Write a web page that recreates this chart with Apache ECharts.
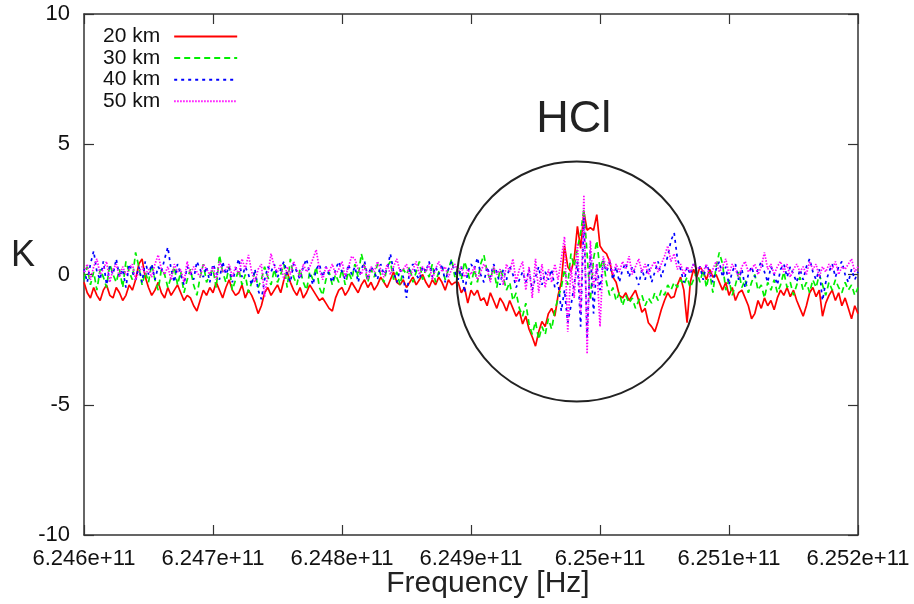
<!DOCTYPE html>
<html>
<head>
<meta charset="utf-8">
<script src="https://cdn.jsdelivr.net/npm/echarts@6/dist/echarts.min.js"></script>
<style>
html,body{margin:0;padding:0;background:#fff;}
#chart{width:914px;height:604px;}
</style>
</head>
<body>
<div id="chart"></div>
<script>
// Frequency channel grid (Hz)
const freqStartHz = 6.246e11;
const channelStepHz = 2.5e6;

// Axis ticks
const xTicksHz = [6.246e11, 6.247e11, 6.248e11, 6.249e11, 6.25e11, 6.251e11, 6.252e11];
const yTicksK = [-10, -5, 0, 5, 10];

const seriesNames = ['20 km', '30 km', '40 km', '50 km'];

// Brightness temperature [K] per channel
const k20km = [
 -0.3,-0.7,-0.9,-0.5,-0.8,-1.0,-0.6,-0.4,-0.8,-0.9,-0.5,-0.7,-1.0,-0.8,-0.4,-0.6,-0.2,0.4,0.6,-0.1,
 -0.5,-0.8,-0.6,-0.3,-0.7,-0.9,-0.5,-0.8,-0.6,-0.4,-0.7,-1.0,-0.8,-0.9,-1.2,-1.4,-1.0,-0.6,-0.8,-0.5,
 -0.7,-0.3,-0.6,-0.9,-0.5,-0.2,-0.6,-0.8,-0.7,-0.4,-0.9,-0.6,-0.8,-1.1,-1.5,-1.2,-0.7,-0.5,-0.8,-0.6,
 -0.4,-0.7,-0.2,0.1,-0.3,-0.6,-0.8,-0.5,-0.9,-0.7,-0.4,-0.6,-0.8,-1.0,-0.9,-1.1,-1.3,-1.4,-0.9,-0.6,
 -0.5,-0.8,-0.6,-0.3,-0.5,-0.7,-0.4,-0.2,-0.5,-0.3,-0.6,-0.4,-0.1,-0.3,-0.5,-0.2,0.1,-0.3,-0.4,-0.2,
 -0.5,-0.3,-0.1,-0.4,-0.2,0.0,-0.3,-0.5,-0.2,-0.4,-0.1,-0.3,-0.6,-0.2,-0.4,-0.3,
 -0.3,-0.7,-0.5,-1.1,-0.6,
 -0.8,-0.6,-1.0,-0.9,-1.2,-0.7,-1.0,-1.3,-0.9,-1.1,-1.4,-1.0,-1.3,-1.6,-1.4,
 -1.9,-1.6,-2.1,-2.4,-2.75,
 -2.2,-1.8,-2.0,-1.5,-1.3,-1.6,-0.8,
 -0.3,1.1,0.3,0.1,0.6,1.85,1.0,2.4,1.7,1.8,1.7,2.3,1.1,0.9,0.8,0.5,-0.1,-0.3,-0.8,-0.9,
 -0.7,-1.0,-0.8,-0.6,-1.0,-1.45,-1.3,-1.85,-2.0,-2.2,-1.8,-1.35,-1.0,-0.7,-0.9,-0.85,-0.4,-0.1,-0.6,-1.85,
 -0.3,0.2,-0.1,
 0.3,0.1,-0.2,0.2,-0.1,0.0,-0.3,-0.6,-0.3,-0.8,-0.5,-1.0,-0.7,-0.6,-0.9,-1.2,-1.7,-1.5,-1.0,-1.3,
 -0.9,-1.2,-1.0,-1.35,-0.9,-0.6,-0.8,-0.5,-0.85,-0.6,-1.0,-1.3,-1.6,-1.2,-0.7,-0.5,-0.85,-0.6,-1.6,-1.1,
 -0.8,-0.6,-1.0,-0.7,-1.2,-0.9,-1.3,-1.7,-1.2,-1.5
];
const k30km = [
 -0.2,0.3,-0.4,0.1,-0.6,0.2,-0.1,-0.5,0.4,0.0,-0.3,0.2,-0.5,0.5,0.1,-0.2,0.85,0.3,-0.4,0.1,
 -0.3,0.4,-0.2,-0.6,0.2,0.0,-0.5,-0.1,0.3,-0.4,0.1,-0.7,-0.2,0.2,-0.4,-0.8,-0.1,0.4,-0.3,0.0,
 0.2,-0.5,0.75,0.1,-0.3,0.3,-0.6,-0.2,0.2,-0.4,0.0,-0.7,-0.3,0.1,-0.5,-0.2,0.3,-0.1,-0.4,0.2,
 -0.3,0.0,0.4,-0.5,0.6,-0.1,-0.4,0.2,-0.3,-0.6,0.1,-0.2,0.3,-0.5,-0.8,-0.2,0.1,-0.4,0.0,-0.3,
 0.2,-0.4,0.1,-0.2,0.4,-0.1,0.8,0.3,-0.3,0.2,-0.1,0.4,0.0,-0.3,0.3,0.5,-0.2,0.1,-0.4,0.2,
 0.0,0.3,-0.3,0.1,0.5,-0.2,0.2,-0.1,0.4,-0.3,0.1,0.3,-0.2,0.2,0.6,-0.1,
 0.3,-0.2,0.5,0.1,-0.4,
 0.2,-0.3,0.4,0.75,0.1,-0.2,0.3,-0.5,0.2,-0.1,-0.6,-0.3,-1.0,-0.7,-1.3,
 -1.6,-1.1,-1.9,-2.3,-1.8,
 -2.5,-2.0,-2.3,-1.7,-2.1,-1.4,-0.9,
 -0.5,0.2,-0.4,0.8,0.3,1.0,1.6,2.5,0.8,-1.0,0.6,1.3,0.2,0.6,-0.3,-0.8,-0.5,-1.0,-0.7,-1.2,
 -0.8,-1.1,-0.9,-1.3,-1.0,-0.8,-1.2,-0.9,-1.1,-0.7,-1.0,-0.6,-0.8,-0.4,-0.6,-0.3,-0.5,-0.2,-0.4,-0.1,
 -0.5,-0.2,0.1,
 -0.3,0.2,-0.5,0.1,-0.7,0.3,0.85,0.4,-0.6,-0.2,-0.8,-0.4,0.1,-0.5,-0.2,-0.7,-0.3,0.0,-0.6,-0.4,
 -0.9,-0.3,-0.6,-0.2,-0.7,-0.4,0.1,-0.5,-0.3,-0.8,-0.4,-0.1,-0.6,-0.3,-0.7,-0.2,-0.5,0.0,-0.4,-0.8,
 -0.3,-0.6,-0.2,-0.5,-0.7,-0.3,-0.6,-0.4,-0.8,-0.5
];
const k40km = [
 0.2,-0.3,0.4,0.9,0.1,-0.2,0.5,-0.4,0.3,0.0,0.6,-0.1,0.2,-0.5,0.4,0.1,-0.2,0.3,-0.3,0.5,
 0.0,0.4,-0.2,0.3,0.1,0.6,1.05,0.2,-0.3,0.4,0.0,-0.4,0.3,0.1,-0.2,0.5,0.2,-0.1,0.3,-0.3,
 0.4,0.1,-0.2,0.5,0.0,0.3,-0.3,0.2,0.6,-0.1,0.3,0.0,-0.4,0.2,-0.6,-0.95,-0.2,0.3,0.1,0.4,
 -0.1,0.2,0.5,0.0,-0.3,0.4,0.1,-0.2,0.3,0.6,0.0,-0.4,0.2,0.4,-0.1,0.3,0.0,-0.3,0.2,0.5,
 0.1,-0.2,0.4,0.0,0.3,-0.3,0.2,0.5,-0.1,0.3,0.1,-0.2,0.4,0.0,0.2,0.8,0.1,-0.3,0.2,-0.1,
 -0.9,0.2,0.4,0.0,-0.2,0.3,0.1,0.5,-0.1,0.3,0.0,0.4,-0.3,0.2,0.5,0.1,
 -0.2,0.3,-0.7,0.1,0.4,
 0.2,0.65,0.0,-0.3,0.3,-0.1,0.4,0.1,-0.4,0.2,-0.2,0.3,0.0,-0.5,-0.2,
 0.1,-0.3,0.2,-0.6,-0.1,
 0.3,-0.4,0.1,-0.2,0.2,-0.5,-0.3,
 -1.4,-0.6,-1.85,-1.2,-0.4,0.5,-2.0,2.2,-2.4,0.9,-1.5,0.4,-0.6,0.5,0.1,0.45,-0.2,0.3,-0.3,0.2,
 0.45,-0.1,0.3,0.0,-0.4,0.2,-0.2,0.4,-0.3,0.1,0.5,-0.1,0.3,0.7,1.3,1.6,0.6,0.2,-0.3,0.3,
 0.0,0.4,0.1,
 0.3,-0.2,0.4,0.1,-0.3,0.2,0.5,-0.1,0.3,-0.4,0.1,0.4,-0.2,0.2,-0.5,0.0,0.3,-0.1,0.2,0.5,
 0.1,-0.3,0.3,0.0,-0.4,0.2,0.4,-0.1,0.3,0.0,-0.3,0.2,-0.2,0.3,0.6,0.1,-0.2,0.2,-1.0,-0.3,
 0.1,0.4,-0.1,0.3,0.5,0.0,-0.3,0.2,-0.2,0.1
];
const k50km = [
 0.1,0.4,-0.2,0.3,0.6,0.0,0.2,0.5,-0.3,0.2,0.4,-0.1,0.3,0.0,0.2,0.4,-0.2,0.1,0.3,0.0,
 0.2,-0.1,0.4,0.75,0.2,0.0,0.3,-0.2,0.4,0.1,0.2,-0.3,0.5,0.0,0.3,0.1,-0.1,0.4,0.2,0.0,
 0.3,-0.2,0.5,0.1,0.2,0.4,-0.1,0.3,0.0,0.6,0.2,0.75,0.1,-0.3,0.2,0.4,-0.85,0.0,0.8,0.3,
 0.1,0.4,-0.2,0.3,0.0,0.5,0.2,-0.1,0.4,0.1,0.3,0.6,0.95,0.2,-0.2,0.3,0.1,0.4,0.0,0.2,
 0.5,-0.1,0.3,0.7,0.6,0.2,0.0,0.4,-0.2,0.3,0.1,0.5,0.2,-0.1,0.4,0.0,0.3,0.6,0.1,0.2,
 0.4,-0.1,0.2,0.5,0.0,0.3,0.1,0.4,-0.2,0.2,0.5,0.1,0.3,-0.1,0.2,0.4,
 0.1,0.3,-0.1,0.2,0.0,
 0.3,-0.2,0.1,0.4,0.2,-0.3,0.3,0.0,0.2,-0.4,0.4,0.1,0.6,-0.3,0.2,
 0.5,-0.6,0.3,-0.9,0.6,
 -0.7,0.4,-0.5,0.2,-0.3,0.4,-0.2,
 0.6,1.45,-2.2,0.3,-0.9,1.2,-1.5,3.05,-3.05,1.3,-0.5,0.4,-2.0,0.7,0.2,0.6,0.0,0.4,0.1,0.5,
 0.2,0.7,0.0,0.3,0.6,0.1,0.4,0.0,0.3,0.5,0.1,0.4,0.7,1.1,0.5,0.8,0.2,0.4,0.0,0.3,
 0.1,0.4,0.2,
 0.3,0.1,0.4,-0.1,0.2,0.5,0.1,0.3,0.6,0.0,0.4,0.2,-0.1,0.3,0.5,0.1,0.2,0.4,0.0,0.3,
 0.85,0.2,0.4,0.0,0.3,0.5,0.1,0.4,-0.1,0.2,0.4,0.1,0.3,0.0,0.5,0.2,0.4,-0.1,0.3,0.1,
 0.4,0.2,0.5,0.0,0.3,0.2,0.4,0.6,0.1,0.3
];

// HCl annotation (data coordinates)
const hclCenterHz = 6.24982e11;
const hclCenterK = -0.27;
const hclRadiusHz = 0.93e8;
const hclLabelK = 5.95;

const FONT = "'Liberation Sans', Arial, Helvetica, sans-serif";
const INK = '#222';

function toSeriesData(vals) {
  return vals.map((v, i) => [freqStartHz + i * channelStepHz, v]);
}
function fmtFreq(v) {
  return Number(Number(v).toPrecision(6)).toExponential();
}

const chart = echarts.init(document.getElementById('chart'), null, {renderer: 'canvas'});

const axisLine = {show: true, onZero: false, lineStyle: {color: '#333', width: 1.5}};
const axisTick = {show: true, inside: true, length: 10, lineStyle: {color: '#333', width: 1.2}};

const colors = ['#ff0000', '#00ee00', '#0000ff', '#ff00ff'];
const dashes = ['solid', [6, 4], [3, 4], [1.5, 1.5]];
const vals = [k20km, k30km, k40km, k50km];

const option = {
  animation: false,
  backgroundColor: '#ffffff',
  grid: {left: 84, right: 56, top: 14, bottom: 69, containLabel: false},
  xAxis: [{
    type: 'value',
    min: xTicksHz[0], max: xTicksHz[xTicksHz.length - 1], interval: 1e8,
    axisLine: axisLine, axisTick: axisTick, splitLine: {show: false},
    axisLabel: {formatter: fmtFreq, fontFamily: FONT, fontSize: 22, color: '#111', margin: 13,
      showMinLabel: true, showMaxLabel: true}
  }, {
    type: 'value', position: 'top',
    min: xTicksHz[0], max: xTicksHz[xTicksHz.length - 1], interval: 1e8,
    axisLine: axisLine, axisTick: axisTick, splitLine: {show: false}, axisLabel: {show: false}
  }],
  yAxis: [{
    type: 'value',
    min: yTicksK[0], max: yTicksK[yTicksK.length - 1], interval: 5,
    axisLine: axisLine, axisTick: axisTick, splitLine: {show: false},
    axisLabel: {fontFamily: FONT, fontSize: 22, color: '#111', margin: 14}
  }, {
    type: 'value', position: 'right',
    min: yTicksK[0], max: yTicksK[yTicksK.length - 1], interval: 5,
    axisLine: axisLine, axisTick: axisTick, splitLine: {show: false}, axisLabel: {show: false}
  }],
  legend: {
    data: seriesNames,
    orient: 'vertical',
    align: 'right',
    left: 98, top: 21,
    itemWidth: 63, itemHeight: 12, itemGap: 0.6,
    itemStyle: {opacity: 0, color: 'rgba(0,0,0,0)', borderWidth: 0},
    textStyle: {fontFamily: FONT, fontSize: 21, color: '#111', lineHeight: 21, padding: [0, 9, 0, 0]}
  },
  series: seriesNames.map((name, s) => ({
    name: name,
    type: 'line',
    xAxisIndex: 0, yAxisIndex: 0,
    symbol: 'none',
    showSymbol: false,
    data: toSeriesData(vals[s]),
    lineStyle: {color: colors[s], width: 1.7, type: dashes[s]},
    itemStyle: {color: colors[s]},
    emphasis: {disabled: true},
    z: 2 + s
  }))
};

chart.setOption(option);

const c = chart.convertToPixel({seriesIndex: 0}, [hclCenterHz, hclCenterK]);
const e = chart.convertToPixel({seriesIndex: 0}, [hclCenterHz + hclRadiusHz, hclCenterK]);
const t = chart.convertToPixel({seriesIndex: 0}, [hclCenterHz, hclLabelK]);
const r = Math.abs(e[0] - c[0]);

chart.setOption({
  graphic: [
    {type: 'circle', shape: {cx: c[0], cy: c[1], r: r}, style: {fill: 'none', stroke: '#222', lineWidth: 2}, z: 100},
    {type: 'text', x: t[0] - 3, y: t[1], style: {text: 'HCl', font: "45px " + FONT, fill: INK, textAlign: 'center', textVerticalAlign: 'middle'}, z: 100},
    {type: 'text', x: 23, y: 256, style: {text: 'K', font: "36px " + FONT, fill: INK, textAlign: 'center', textVerticalAlign: 'middle'}, z: 100},
    {type: 'text', x: 488, y: 584, style: {text: 'Frequency [Hz]', font: "30px " + FONT, fill: INK, textAlign: 'center', textVerticalAlign: 'middle'}, z: 100}
  ]
});
</script>
</body>
</html>
